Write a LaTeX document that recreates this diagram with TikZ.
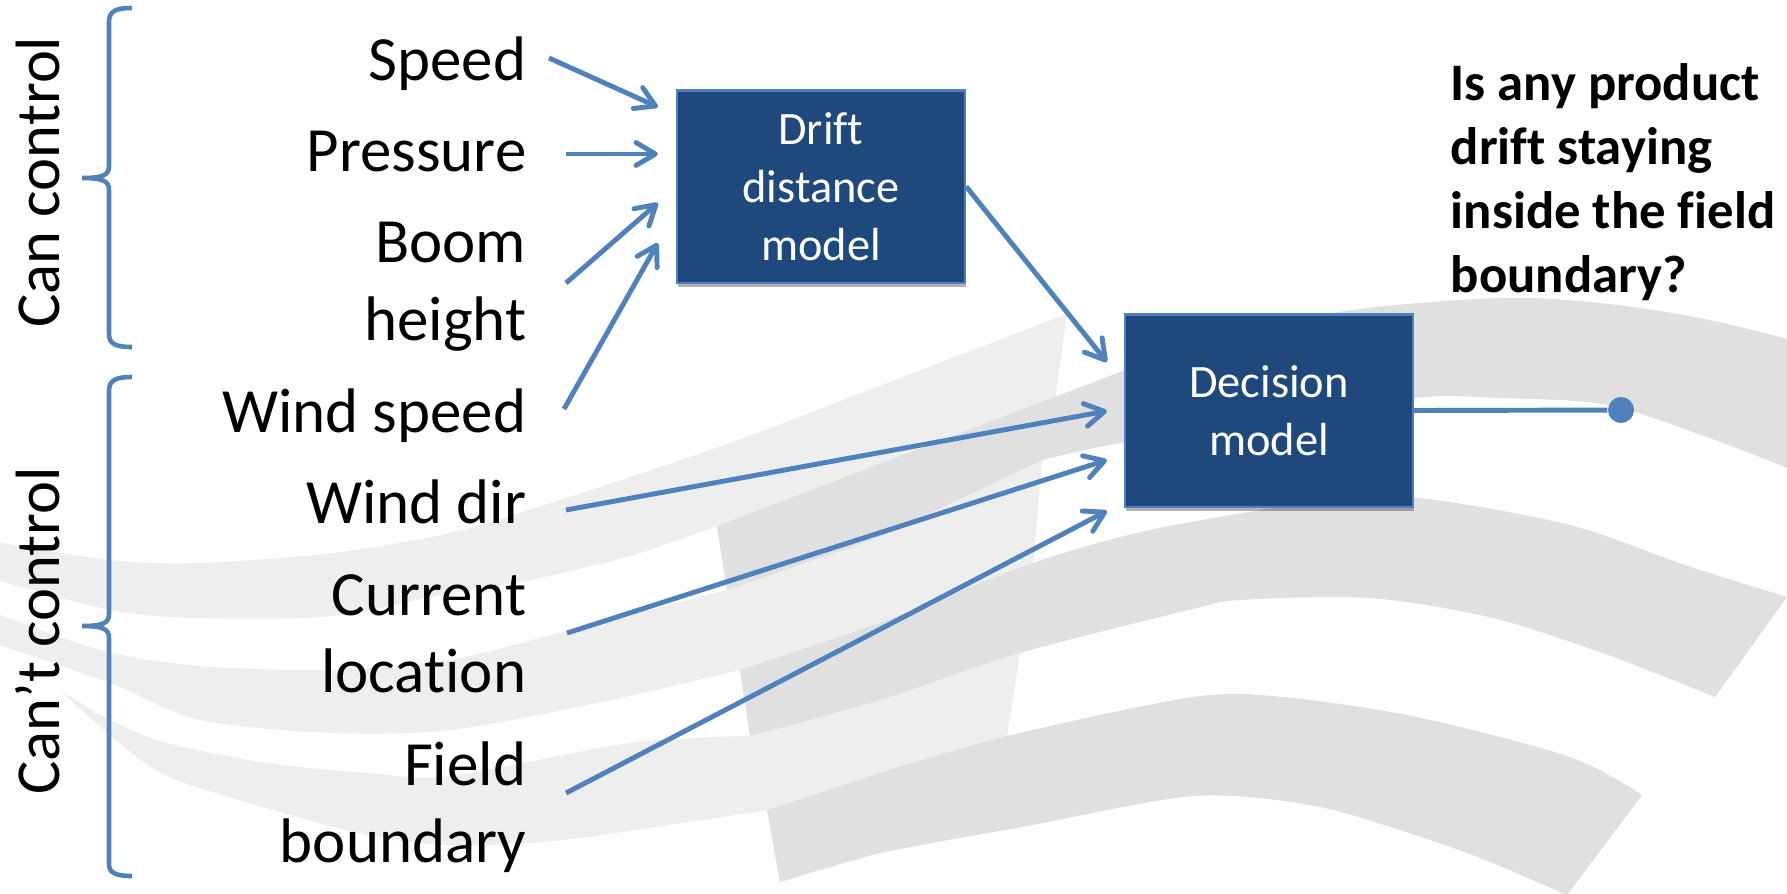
\documentclass[tikz,border=0pt]{standalone}
\usepackage{fontspec}
\setmainfont{Carlito}[Ligatures={NoCommon}]
\usetikzlibrary{arrows.meta,calc,shadows}

\definecolor{accent}{HTML}{4F81BD}
\definecolor{boxfill}{HTML}{1F497D}
\definecolor{swooshlight}{HTML}{EEEEEE}
\definecolor{swooshmid}{HTML}{E0E0E0}

\begin{document}
\begin{tikzpicture}[x=0.01cm,y=-0.01cm,
  label/.style={inner sep=0pt, align=right, font=\fontsize{17.9}{21.9}\selectfont},
  side/.style={inner sep=0pt, rotate=90, font=\fontsize{17.8}{21}\selectfont},
  model/.style={draw=accent, line width=0.6pt, fill=boxfill, text=white,
    minimum width=2.88cm, minimum height=1.92cm, inner sep=0pt, align=center,
    font=\fontsize{13.2}{16.5}\selectfont,
    drop shadow={shadow xshift=0.3pt, shadow yshift=-1.2pt, opacity=0.3, fill=black}},
  flow/.style={draw=accent, line width=1.4pt, -{Straight Barb[length=5.5pt,width=6.5pt,round]}},
  brace/.style={draw=accent, line width=1.3pt},
  outdot/.style={circle, fill=accent, minimum size=0.26cm, inner sep=0pt},
  question/.style={inner sep=0pt, align=left, font=\bfseries\fontsize{15}{18.2}\selectfont},
]
\useasboundingbox (0,0) rectangle (1787,893);
\fill[white] (0,0) rectangle (1787,893);

% background swooshes
\begin{scope}
\clip (0,0) rectangle (1787,893);
% light (left) parts of the three ribbons
\fill[swooshlight] plot[smooth,tension=.5] coordinates {(-10,541) (110,560) (200,563) (333,553) (450,533) (560,500) (730,443) (900,378) (1067,314)}
  -- (1056,393) -- (717,526)
  -- plot[smooth,tension=.5] coordinates {(717,526) (630,556) (530,580) (450,593) (333,616) (200,618) (110,610) (-10,578)} -- cycle;
\fill[swooshlight] plot[smooth,tension=.5] coordinates {(-10,611) (100,650) (200,666) (333,670) (450,660) (570,630) (727,590)}
  -- (740,670)
  -- plot[smooth,tension=.5] coordinates {(740,670) (597,703) (450,730) (333,733) (200,720) (110,683) (-10,642)} -- cycle;
\fill[swooshlight] plot[smooth,tension=.5] coordinates {(60,690) (110,720) (167,743) (267,763) (367,773) (450,776) (630,743) (750,736)}
  -- (767,810)
  -- plot[smooth,tension=.5] coordinates {(767,810) (563,840) (450,845) (367,835) (267,808) (167,776) (110,735) (60,690)} -- cycle;
% the fold
\fill[swooshlight] (717,526) -- (1056,393) -- (1042,460) -- (1033,563) -- (1020,653) -- (1007,736)
  -- (1000,830) -- (880,853) -- (780,882) -- (767,810) -- (750,736) -- (740,670) -- (727,590) -- cycle;
% darker (right) parts of the ribbons
\fill[swooshmid] (717,526) -- (1120,372)
  -- plot[smooth,tension=.5] coordinates {(1120,372) (1200,345) (1345,311) (1500,298) (1600,303) (1700,318) (1800,342)}
  -- (1800,473)
  -- plot[smooth,tension=.5] coordinates {(1800,473) (1715,440) (1608,405) (1500,398) (1413,398) (1250,425) (1120,443) (1042,460)}
  -- (880,537) -- (727,590) -- cycle;
\fill[swooshmid] (740,670) -- (880,623)
  -- plot[smooth,tension=.5] coordinates {(880,623) (1033,563) (1150,530) (1310,503) (1417,498) (1570,525) (1685,565) (1787,597)}
  -- (1715,697)
  -- plot[smooth,tension=.5] coordinates {(1715,697) (1608,655) (1493,618) (1370,598) (1240,600) (1193,609) (1020,653) (880,700) (750,736)} -- cycle;
\fill[swooshmid] (767,810) -- (880,773)
  -- plot[smooth,tension=.5] coordinates {(880,773) (1007,736) (1193,697) (1283,697) (1417,717) (1570,757) (1642,795)}
  -- (1567,895)
  -- plot[smooth,tension=.5] coordinates {(1567,895) (1480,858) (1400,830) (1310,805) (1193,796) (1027,826) (880,853) (780,882)} -- cycle;
\end{scope}

% group braces
\draw[brace] (132,8) .. controls (116,8) and (109,11) .. (109,22) -- (109,166)
  .. controls (109,175) and (103,178) .. (82,178) .. controls (103,178) and (109,181) .. (109,190)
  -- (109,334) .. controls (109,344) and (116,347) .. (132,347);
\draw[brace] (132,377) .. controls (116,377) and (109,380) .. (109,391) -- (109,614)
  .. controls (109,623) and (103,626) .. (82,626) .. controls (103,626) and (109,629) .. (109,638)
  -- (109,864) .. controls (109,873) and (116,876) .. (132,876);

\node[side] (can) at (38,182) {Can control};
\node[side] (cant) at (38,631) {Can’t control};

% inputs (base anchor sits on the last line)
\node[label, anchor=base east] (speed) at (527,80) {Speed};
\node[label, anchor=base east] (pressure) at (527,171) {Pressure};
\node[label, anchor=base east] (boom) at (527,340) {Boom\\height};
\node[label, anchor=base east] (windspeed) at (527,432) {Wind speed};
\node[label, anchor=base east] (winddir) at (527,523) {Wind dir};
\node[label, anchor=base east] (current) at (527,692) {Current\\location};
\node[label, anchor=base east] (field) at (527,862) {Field\\boundary};

% models
\node[model] (drift) at (821,186.5) {Drift\\distance\\model};
\node[model] (decision) at (1269,410.5) {Decision\\model};

\node[question, anchor=base west] (q) at (1450,292) {Is any product\\drift staying\\inside the field\\boundary?};

% connectors
\draw[flow] ($(speed.base east)+(22,-22)$) -- ($(drift.west)+(-18,-79.5)$);
\draw[flow] ($(pressure.base east)+(39,-17)$) -- ($(drift.west)+(-18,-32.5)$);
\draw[flow] ($(boom.base east)+(39,-57)$) -- ($(drift.west)+(-18,16.5)$);
\draw[flow] ($(windspeed.base east)+(37,-23)$) -- ($(drift.west)+(-18,56.5)$);
\draw[flow] (drift.east) -- ($(decision.west)+(-17,-48.5)$);
\draw[flow] ($(winddir.base east)+(39,-13)$) -- ($(decision.west)+(-17,0.5)$);
\draw[flow] ($(current.base east)+(40,-59)$) -- ($(decision.west)+(-17,49.5)$);
\draw[flow] ($(field.base east)+(39,-69)$) -- ($(decision.west)+(-17,100.5)$);

\node[outdot] (out) at (1621,410) {};
\draw[accent, line width=1.4pt] (decision.east) -- (out);
\end{tikzpicture}
\end{document}
